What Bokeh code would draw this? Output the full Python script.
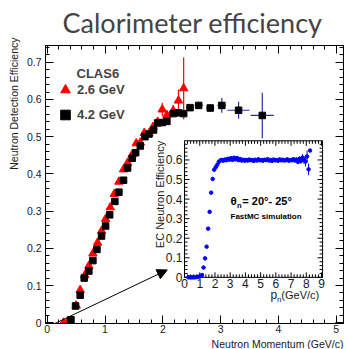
import math
from bokeh.plotting import figure
from bokeh.models import (Range1d, LinearAxis, SingleIntervalTicker, Label, Legend,
                          LegendItem, Arrow, NormalHead, Title)
from bokeh.core.properties import value
from bokeh.embed import file_html
from bokeh.resources import INLINE

# ---------------- data ----------------
# CLAS6, 2.6 GeV beam (red triangles)
e26_mom = [0.28, 0.34, 0.50, 0.57, 0.65, 0.72, 0.79, 0.87, 0.94, 1.01, 1.09, 1.16, 1.24,
           1.32, 1.39, 1.47, 1.54, 1.61, 1.68, 1.76, 1.83, 1.91, 1.99, 2.07, 2.18, 2.27, 2.36]
e26_eff = [0.000, 0.000, 0.046, 0.088, 0.128, 0.153, 0.186, 0.215, 0.247, 0.279, 0.310, 0.346,
           0.379, 0.412, 0.430, 0.452, 0.482, 0.484, 0.510, 0.509, 0.526, 0.540, 0.573, 0.558,
           0.570, 0.597, 0.630]
e26_err = [0, 0, 0, 0, 0, 0, 0, 0, 0, 0, 0, 0, 0, 0, 0, 0, 0, 0, 0, 0,
           0.007, 0.008, 0.018, 0.012, 0.016, 0.030, 0.083]

# CLAS6, 4.2 GeV beam (black squares)
e42_mom = [0.41, 0.49, 0.57, 0.64, 0.72, 0.79, 0.86, 0.94, 1.01, 1.08, 1.17, 1.24, 1.32,
           1.39, 1.47, 1.53, 1.61, 1.69, 1.76, 1.84, 1.91, 1.99, 2.07, 2.18, 2.27, 2.36,
           2.47, 2.62, 2.82, 3.02, 3.31, 3.72]
e42_eff = [0.008, 0.045, 0.074, 0.120, 0.139, 0.167, 0.197, 0.233, 0.260, 0.290, 0.326,
           0.351, 0.383, 0.416, 0.442, 0.457, 0.475, 0.500, 0.507, 0.518, 0.537, 0.538,
           0.541, 0.562, 0.564, 0.562, 0.578, 0.584, 0.577, 0.584, 0.571, 0.557]
e42_xerr = [0] * 26 + [0.058, 0.07, 0.07, 0.075, 0.19, 0.20]
e42_yerr = [0] * 26 + [0.008, 0.006, 0.010, 0.020, 0.023, 0.061]

# FastMC simulation, theta_n = 20-25 deg (inset)
mc_p = [0.25, 0.35, 0.45, 0.55, 0.65, 0.75, 0.85, 0.95, 1.05, 1.15, 1.25, 1.35, 1.45, 1.55,
        1.65, 1.75, 1.85, 1.95, 2.05, 2.15, 2.25, 2.35, 2.45, 2.55, 2.65, 2.75, 2.85, 2.95,
        3.05, 3.15, 3.25, 3.35, 3.45, 3.55, 3.65, 3.75, 3.85, 3.95, 4.05, 4.15, 4.25, 4.35,
        4.45, 4.55, 4.65, 4.75, 4.85, 4.95, 5.05, 5.15, 5.25, 5.35, 5.45, 5.55, 5.65, 5.75,
        5.85, 5.95, 6.05, 6.15, 6.25, 6.35, 6.45, 6.55, 6.65, 6.75, 6.85, 6.95, 7.05, 7.15,
        7.25, 7.35, 7.45, 7.55, 7.65, 7.75, 7.85, 7.95, 8.05, 8.15, 8.25]
mc_eff = [0.000, 0.000, 0.000, 0.000, 0.000, 0.001, 0.002, 0.004, 0.006, 0.012, 0.050, 0.097,
          0.157, 0.249, 0.335, 0.433, 0.503, 0.550, 0.563, 0.575, 0.590, 0.597, 0.600, 0.596,
          0.602, 0.598, 0.606, 0.601, 0.609, 0.600, 0.611, 0.603, 0.610, 0.599, 0.605, 0.597,
          0.601, 0.596, 0.600, 0.597, 0.602, 0.598, 0.600, 0.595, 0.601, 0.597, 0.603, 0.598,
          0.600, 0.596, 0.601, 0.599, 0.604, 0.597, 0.600, 0.595, 0.602, 0.598, 0.600, 0.596,
          0.603, 0.598, 0.601, 0.597, 0.599, 0.603, 0.596, 0.600, 0.598, 0.604, 0.597, 0.602,
          0.590, 0.606, 0.595, 0.612, 0.600, 0.592, 0.618, 0.552, 0.648]
mc_err = [0] * 22 + [0.003] * 41 + [0.005, 0.005, 0.005, 0.006, 0.006, 0.007, 0.008, 0.008,
                                    0.010, 0.010, 0.012, 0.015, 0.018, 0.020, 0.025, 0.030, 0.030]

# tick labels
main_ylabels = {0: "0"}
inset_xticks = [0, 1, 2, 3, 4, 5, 6, 7, 8, 9]
inset_xlabels = ["0", "1", "2", "3", "4", "5", "6", "7", "8", "9"]
inset_yticks = [0.0, 0.1, 0.2, 0.3, 0.4, 0.5, 0.6]
inset_ylabels = ["0", "0.1", "0.2", "0.3", "0.4", "0.5", "0.6"]

FONT = "Liberation Sans"
TXT = "#1a1a1a"


def style_axis(ax, size, standoff, tin, mtin, labels=True):
    ax.axis_line_color = "black"
    ax.major_tick_in = tin
    ax.major_tick_out = 0
    ax.minor_tick_in = mtin
    ax.minor_tick_out = 0
    ax.major_tick_line_color = "black"
    ax.minor_tick_line_color = "black"
    ax.major_label_text_font = FONT
    if labels:
        ax.major_label_text_color = TXT
        ax.major_label_text_font_size = size
        ax.major_label_standoff = standoff
    else:
        ax.major_label_text_color = None
        ax.major_label_text_font_size = "1px"
        ax.major_label_standoff = 0


# ---------------- main figure ----------------
p = figure(width=348, height=349, output_backend="svg", toolbar_location=None,
           x_range=Range1d(-0.03, 5.125), y_range=Range1d(-0.002, 0.745),
           min_border_left=45, min_border_right=5, min_border_top=43, min_border_bottom=23)
p.xgrid.visible = False
p.ygrid.visible = False
p.outline_line_color = "black"

p.title.text = "Calorimeter efficiency"
p.title.text_font = "Lato"
p.title.text_font_size = "27px"
p.title.text_font_style = "normal"
p.title.align = "left"
p.title.offset = 17
p.title.vertical_align = "top"
p.title.standoff = 10

xt = SingleIntervalTicker(interval=1, num_minor_ticks=5)
yt = SingleIntervalTicker(interval=0.1, num_minor_ticks=5)
p.xaxis.ticker = xt
p.yaxis.ticker = yt
p.yaxis.major_label_overrides = main_ylabels
style_axis(p.xaxis[0], "10.5px", 1, 8, 4)
style_axis(p.yaxis[0], "10.5px", 4, 8, 4)
top_ax = LinearAxis(ticker=xt)
right_ax = LinearAxis(ticker=yt)
style_axis(top_ax, "", 0, 8, 4, labels=False)
style_axis(right_ax, "", 0, 8, 4, labels=False)
p.add_layout(top_ax, "above")
p.add_layout(right_ax, "right")

p.add_layout(Title(text="Neutron Detection Efficiency", align="right", offset=-8,
                   standoff=8, text_font=FONT, text_font_size="10.5px",
                   text_font_style="normal", text_color=TXT), "left")
p.add_layout(Title(text="Neutron Momentum (GeV/c)", align="right", standoff=0,
                   text_font=FONT, text_font_size="10.5px", text_font_style="normal",
                   text_color=TXT), "below")

# error bars
r_idx = [i for i, e in enumerate(e26_err) if e > 0]
p.segment(x0=[e26_mom[i] for i in r_idx], x1=[e26_mom[i] for i in r_idx],
          y0=[e26_eff[i] - e26_err[i] for i in r_idx], y1=[e26_eff[i] + e26_err[i] for i in r_idx],
          line_color="red", line_width=1.2)
b_idx = [i for i, e in enumerate(e42_xerr) if e > 0]
ebar_col = "#2233aa"
p.segment(x0=[e42_mom[i] - e42_xerr[i] for i in b_idx], x1=[e42_mom[i] + e42_xerr[i] for i in b_idx],
          y0=[e42_eff[i] for i in b_idx], y1=[e42_eff[i] for i in b_idx],
          line_color=ebar_col, line_width=1.2)
p.segment(x0=[e42_mom[i] for i in b_idx], x1=[e42_mom[i] for i in b_idx],
          y0=[e42_eff[i] - e42_yerr[i] for i in b_idx], y1=[e42_eff[i] + e42_yerr[i] for i in b_idx],
          line_color=ebar_col, line_width=1.2)

r26 = p.scatter(e26_mom, e26_eff, marker="triangle", size=8.5, color="red")
r42 = p.scatter(e42_mom, e42_eff, marker="square", size=6.5, color="black")

legend = Legend(items=[LegendItem(label="2.6 GeV", renderers=[r26]),
                       LegendItem(label="4.2 GeV", renderers=[r42])],
                location=(8, 196), glyph_width=24, glyph_height=25, spacing=0,
                padding=0, margin=0, label_standoff=0, label_height=25,
                label_text_font=FONT, label_text_font_size="13px",
                label_text_font_style="bold", border_line_color=None,
                background_fill_alpha=0)
p.add_layout(legend)

p.add_layout(Label(x=0.507, y=0.669, text="CLAS6", text_font=FONT, text_font_size="13px",
                   text_font_style="bold", text_baseline="middle"))

p.add_layout(Arrow(end=NormalHead(size=10, fill_color="black", line_color="black"),
                   x_start=-0.583, y_start=-0.055, x_end=2.076, y_end=0.142,
                   line_color="black", line_width=1))

# ---------------- inset (sub-coordinates inside the main frame) ----------------
IX0, IX1 = 0.0, 9.07
IY0, IY1 = 0.0, 0.698
ins = p.subplot(x_source=Range1d(IX0, IX1), y_source=Range1d(IY0, IY1),
                x_target=Range1d(2.375, 4.763), y_target=Range1d(0.122, 0.489))

ins.quad(left=[IX0], right=[IX1], bottom=[IY0], top=[IY1], fill_color=None,
         line_color="black", line_width=1)

x_minor = [round(t + k * 0.2, 3) for t in inset_xticks for k in range(1, 5) if t + k * 0.2 < IX1]
y_minor = [round(t + k * 0.02, 3) for t in inset_yticks + [0.7] for k in range(1, 5)
           if t + k * 0.02 < IY1]
for ticks, ln in ((inset_xticks, 5), (x_minor, 3)):
    ins.ray(x=ticks, y=[IY0] * len(ticks), length=ln, length_units="screen",
            angle=math.pi / 2, line_color="black", line_width=1)
    ins.ray(x=ticks, y=[IY1] * len(ticks), length=ln, length_units="screen",
            angle=-math.pi / 2, line_color="black", line_width=1)
for ticks, ln in ((inset_yticks, 5), (y_minor, 3)):
    ins.ray(x=[IX0] * len(ticks), y=ticks, length=ln, length_units="screen",
            angle=0, line_color="black", line_width=1)
    ins.ray(x=[IX1] * len(ticks), y=ticks, length=ln, length_units="screen",
            angle=math.pi, line_color="black", line_width=1)

ins.text(x=inset_xticks, y=[IY0] * len(inset_xticks), text=inset_xlabels, y_offset=2,
         text_align="center", text_baseline="top", text_font=value(FONT),
         text_font_size="12px", text_color=TXT)
ins.text(x=[IX0] * len(inset_yticks), y=inset_yticks, text=inset_ylabels, x_offset=-2,
         text_align="right", text_baseline="middle", text_font=value(FONT),
         text_font_size="12px", text_color=TXT)

m_idx = [i for i, e in enumerate(mc_err) if e > 0]
ins.segment(x0=[mc_p[i] for i in m_idx], x1=[mc_p[i] for i in m_idx],
            y0=[mc_eff[i] - mc_err[i] for i in m_idx], y1=[mc_eff[i] + mc_err[i] for i in m_idx],
            line_color="blue", line_width=1)
ins.scatter(mc_p, mc_eff, marker="circle", size=3.5, color="blue")

# inset axis titles and annotation
ins.text(x=[-1.58], y=[IY1], text=["EC Neutron Efficiency"], angle=math.pi / 2,
         text_align="right", text_baseline="middle", text_font=value(FONT),
         text_font_size="11px", text_color=TXT)
ins.text(x=[5.65], y=[-0.09], text=["p"], text_baseline="middle", text_font=value(FONT),
         text_font_size="12px", text_color=TXT)
ins.text(x=[6.08], y=[-0.112], text=["n"], text_baseline="middle", text_font=value(FONT),
         text_font_size="8px", text_color=TXT)
ins.text(x=[8.85], y=[-0.09], text=["(GeV/c)"], text_align="right", text_baseline="middle",
         text_font=value(FONT), text_font_size="11px", text_color=TXT)
ins.text(x=[3.02], y=[0.389], text=["θ"], text_baseline="middle", text_font=value(FONT),
         text_font_size="11.5px", text_font_style="bold", text_color="black")
ins.text(x=[3.45], y=[0.368], text=["n"], text_baseline="middle", text_font=value(FONT),
         text_font_size="7.5px", text_font_style="bold", text_color="black")
ins.text(x=[3.8], y=[0.389], text=["= 20°- 25°"], text_baseline="middle",
         text_font=value(FONT), text_font_size="11px", text_font_style="bold",
         text_color="black")
ins.text(x=[3.02], y=[0.31], text=["FastMC simulation"], text_baseline="middle",
         text_font=value(FONT), text_font_size="8px", text_font_style="bold",
         text_color="black")

open("out.html", "w").write(file_html(p, INLINE))
